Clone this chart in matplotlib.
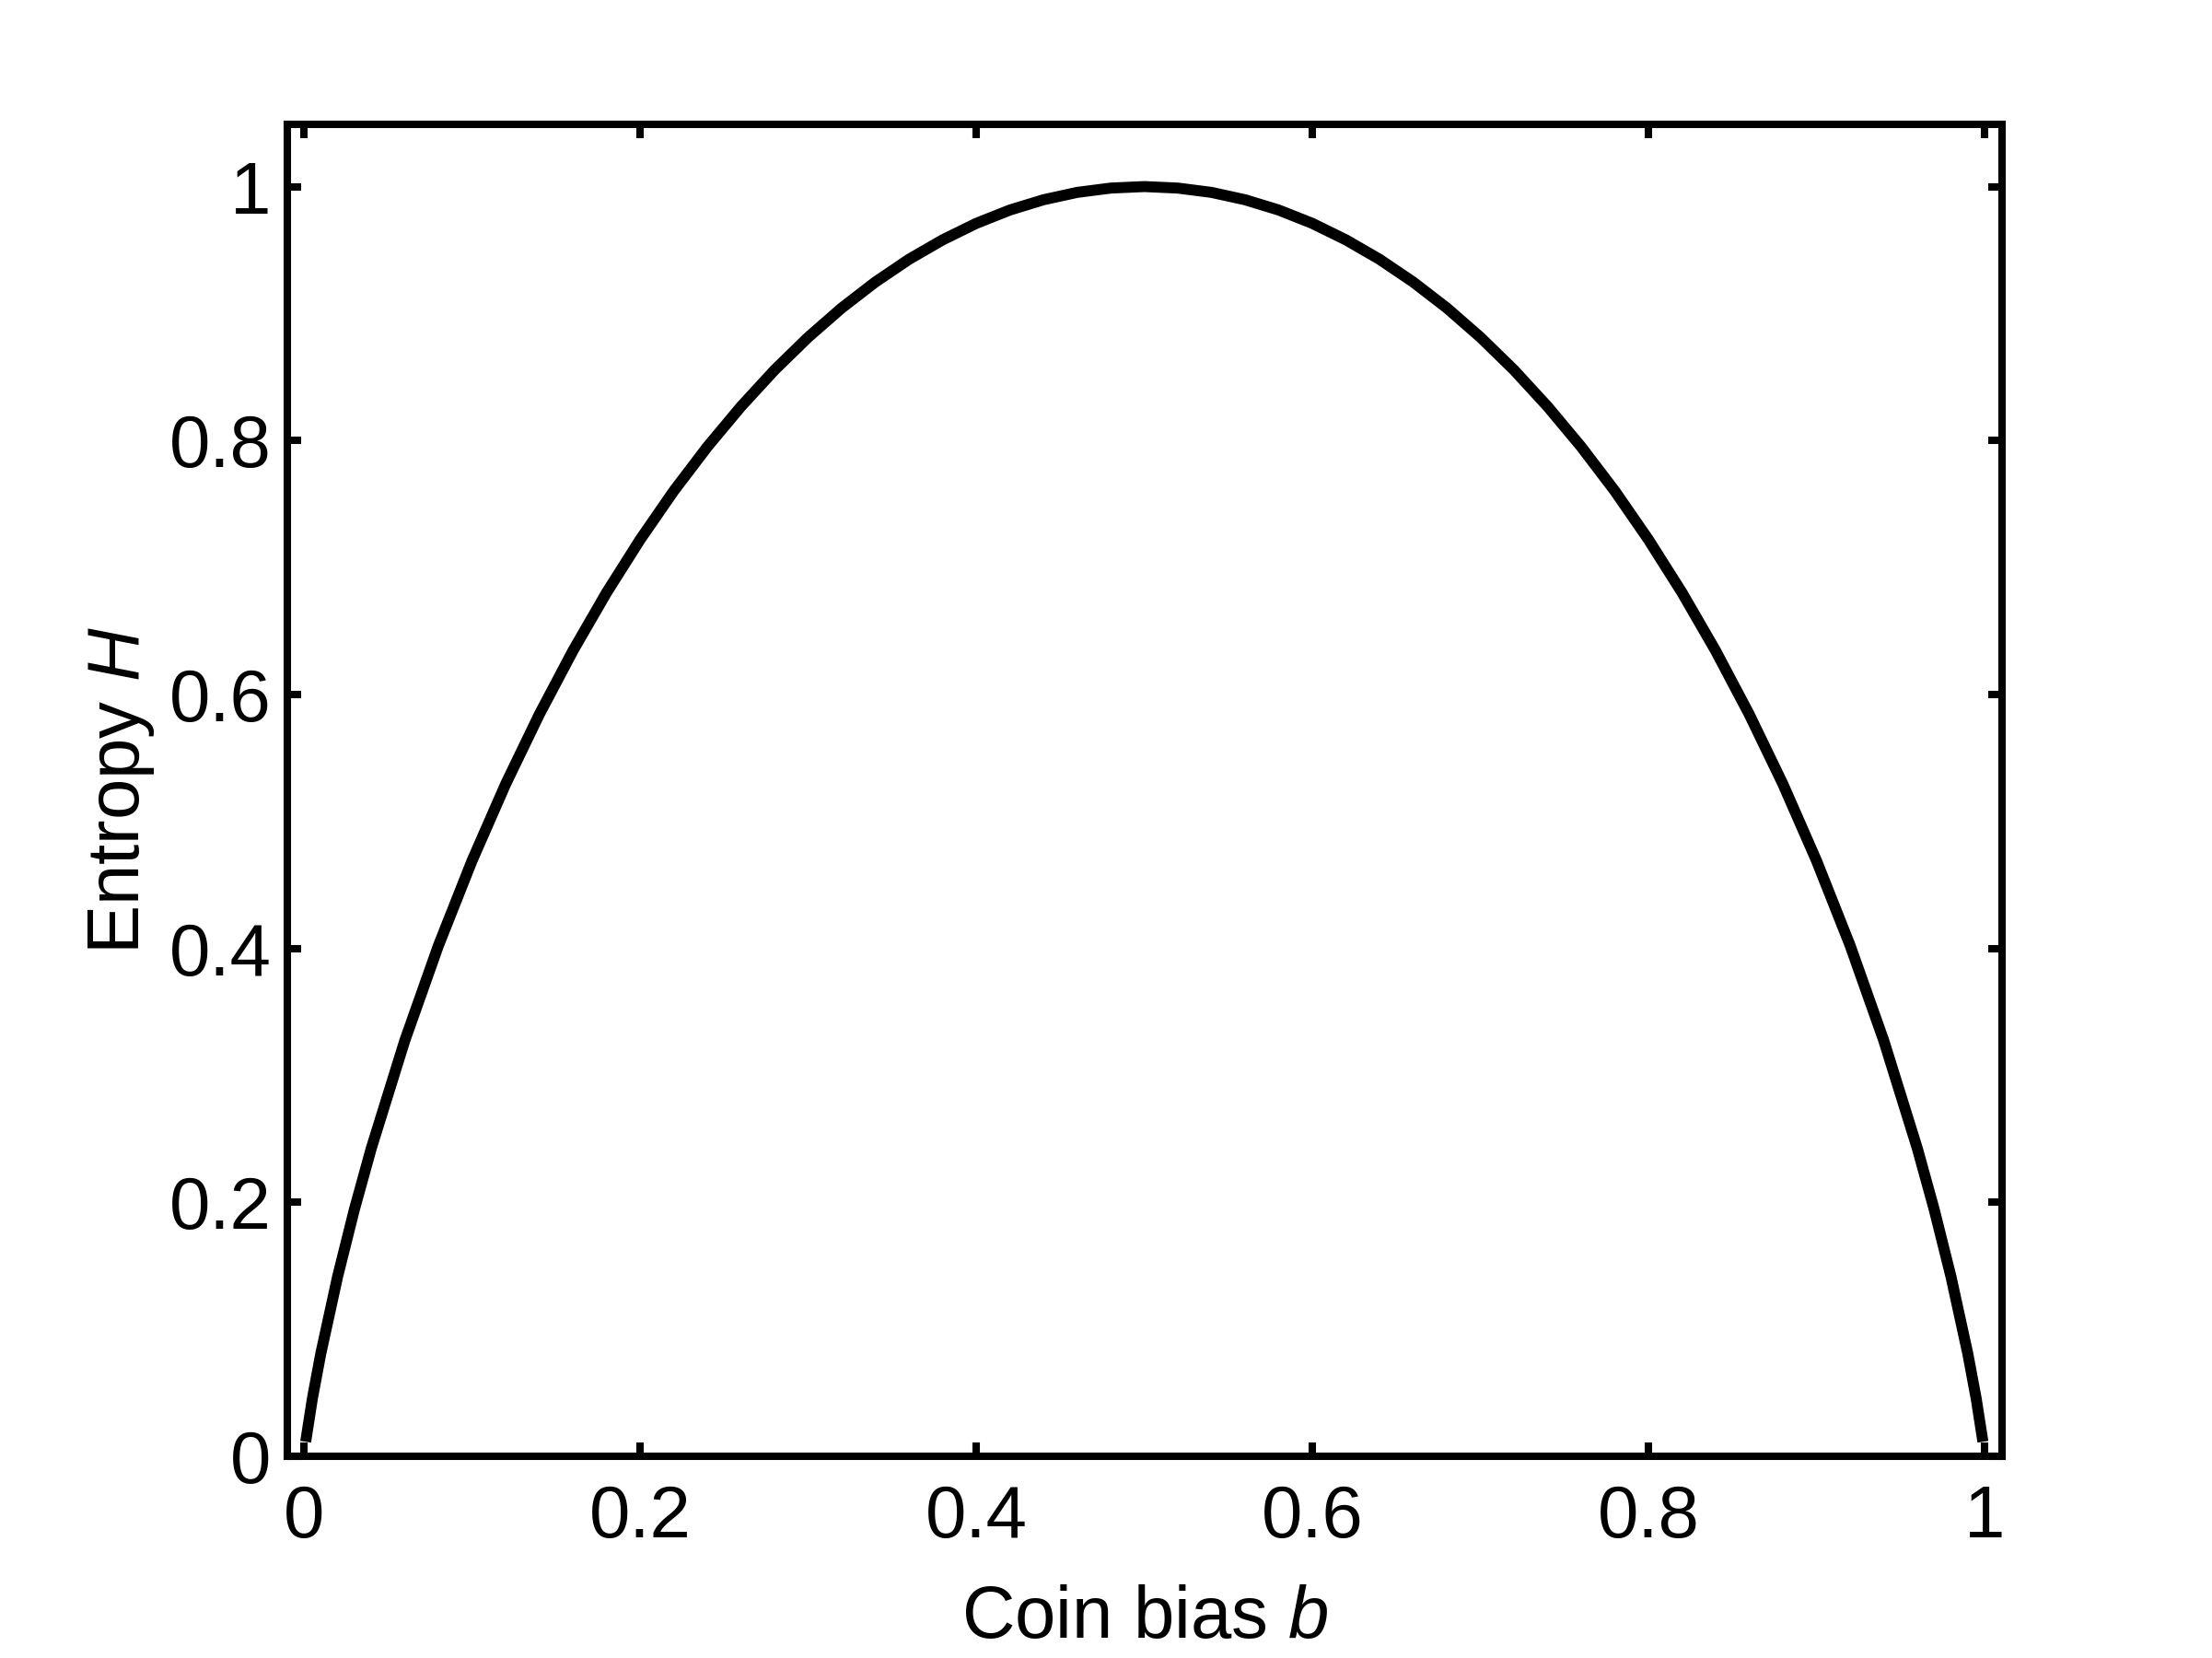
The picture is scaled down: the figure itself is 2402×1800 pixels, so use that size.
import matplotlib
matplotlib.use("Agg")
import matplotlib.pyplot as plt

# entropy of a biased coin
bias = [0.001, 0.005, 0.01, 0.02, 0.03, 0.04, 0.06, 0.08, 0.10, 0.12,
        0.14, 0.16, 0.18, 0.20, 0.22, 0.24, 0.26, 0.28, 0.30, 0.32,
        0.34, 0.36, 0.38, 0.40, 0.42, 0.44, 0.46, 0.48, 0.50,
        0.52, 0.54, 0.56, 0.58, 0.60, 0.62, 0.64, 0.66, 0.68, 0.70,
        0.72, 0.74, 0.76, 0.78, 0.80, 0.82, 0.84, 0.86, 0.88, 0.90,
        0.92, 0.94, 0.96, 0.97, 0.98, 0.99, 0.995, 0.999]
entropy = [0.0114, 0.0454, 0.0808, 0.1414, 0.1944, 0.2423, 0.3274, 0.4022, 0.4690, 0.5294,
           0.5842, 0.6343, 0.6801, 0.7219, 0.7602, 0.7950, 0.8267, 0.8555, 0.8813, 0.9044,
           0.9248, 0.9427, 0.9580, 0.9710, 0.9815, 0.9896, 0.9954, 0.9988, 1.0,
           0.9988, 0.9954, 0.9896, 0.9815, 0.9710, 0.9580, 0.9427, 0.9248, 0.9044, 0.8813,
           0.8555, 0.8267, 0.7950, 0.7602, 0.7219, 0.6801, 0.6343, 0.5842, 0.5294, 0.4690,
           0.4022, 0.3274, 0.2423, 0.1944, 0.1414, 0.0808, 0.0454, 0.0114]

xticks = [0, 0.2, 0.4, 0.6, 0.8, 1]
xtick_labels = ["0", "0.2", "0.4", "0.6", "0.8", "1"]
yticks = [0, 0.2, 0.4, 0.6, 0.8, 1]
ytick_labels = ["0", "0.2", "0.4", "0.6", "0.8", "1"]

plt.rcParams["font.family"] = ["Liberation Sans", "DejaVu Sans"]
plt.rcParams["mathtext.fontset"] = "custom"
plt.rcParams["mathtext.rm"] = "Liberation Sans"
plt.rcParams["mathtext.it"] = "Liberation Sans:italic"

fig = plt.figure(figsize=(12.01, 9.0), dpi=200)
ax = fig.add_axes([0.1299, 0.1217, 0.7752, 0.8033])

ax.plot(bias, entropy, "-", color="black", lw=4.3,
        solid_joinstyle="round", solid_capstyle="butt")

ax.set_xlim(-0.0099, 1.0104)
ax.set_ylim(0, 1.049)
ax.set_xticks(xticks)
ax.set_xticklabels(xtick_labels)
ax.set_yticks(yticks)
ax.set_yticklabels(ytick_labels)

for s in ax.spines.values():
    s.set_linewidth(2.9)
ax.tick_params(direction="in", length=5.4, width=2.9, labelsize=28.7,
               top=True, right=True)
ax.tick_params(axis="x", pad=11)
ax.tick_params(axis="y", pad=6.3)

ax.set_xlabel(r"Coin bias $b$", fontsize=28.7, labelpad=12)
ax.set_ylabel(r"Entropy $H$", fontsize=28.7, labelpad=5)

fig.savefig("out.png", dpi=200)
